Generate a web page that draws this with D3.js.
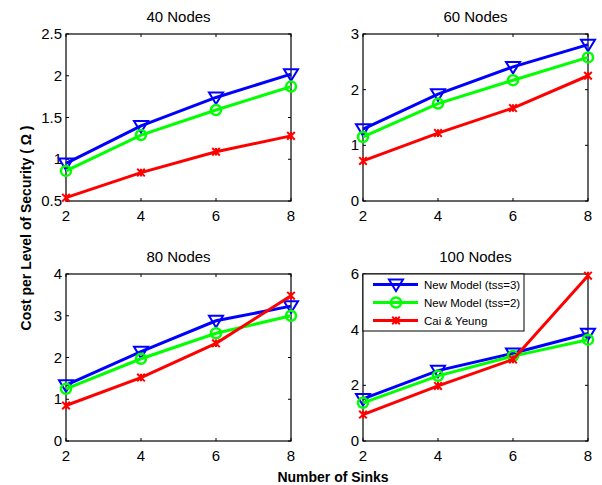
<!DOCTYPE html>
<html>
<head>
<meta charset="utf-8">
<script src="https://cdn.jsdelivr.net/npm/d3@7"></script>
<style>
  body { margin: 0; background: #fff; }
  svg { font-family: "Liberation Sans", Arial, sans-serif; }
</style>
</head>
<body>
<div id="chart"></div>
<script>
// Data
const sinks = [2, 4, 6, 8];
const seriesNames = ["New Model (tss=3)", "New Model (tss=2)", "Cai & Yeung"];

const nodes40Tss3 = [0.95, 1.40, 1.74, 2.02];
const nodes40Tss2 = [0.86, 1.29, 1.59, 1.87];
const nodes40Cai  = [0.54, 0.84, 1.09, 1.28];

const nodes60Tss3 = [1.29, 1.92, 2.41, 2.81];
const nodes60Tss2 = [1.15, 1.75, 2.17, 2.58];
const nodes60Cai  = [0.72, 1.22, 1.67, 2.25];

const nodes80Tss3 = [1.34, 2.14, 2.88, 3.23];
const nodes80Tss2 = [1.25, 1.97, 2.58, 3.00];
const nodes80Cai  = [0.85, 1.52, 2.34, 3.48];

const nodes100Tss3 = [1.51, 2.53, 3.15, 3.86];
const nodes100Tss2 = [1.37, 2.34, 3.05, 3.64];
const nodes100Cai  = [0.95, 1.98, 2.93, 5.94];

const ticks40 = [0.5, 1, 1.5, 2, 2.5];
const ticks60 = [0, 1, 2, 3];
const ticks80 = [0, 1, 2, 3, 4];
const ticks100 = [0, 2, 4, 6];

const width = 602;
const height = 485;
const colors = ["#0000ff", "#00ff00", "#ff0000"];

const panels = [
    { title: "40 Nodes", left: 66, top: 34, domain: [0.5, 2.5], ticks: ticks40, data: [nodes40Tss3, nodes40Tss2, nodes40Cai] },
    { title: "60 Nodes", left: 363, top: 34, domain: [0, 3], ticks: ticks60, data: [nodes60Tss3, nodes60Tss2, nodes60Cai] },
    { title: "80 Nodes", left: 66, top: 274, domain: [0, 4], ticks: ticks80, data: [nodes80Tss3, nodes80Tss2, nodes80Cai] },
    { title: "100 Nodes", left: 363, top: 274, domain: [0, 6], ticks: ticks100, data: [nodes100Tss3, nodes100Tss2, nodes100Cai], legend: true }
];
const pw = 225, ph = 167;

const svg = d3.select("#chart")
    .append("svg")
    .attr("width", width)
    .attr("height", height);

// marker drawers (matlab-ish: triangle down, circle, star)
function drawMarker(g, i, x, y) {
    if (i === 0) {
        const s = 7;
        g.append("path")
            .attr("d", `M${x - s},${y - s * 0.7}L${x + s},${y - s * 0.7}L${x},${y + s * 0.95}Z`)
            .attr("fill", "none").attr("stroke", colors[0]).attr("stroke-width", 2);
    } else if (i === 1) {
        g.append("circle")
            .attr("cx", x).attr("cy", y).attr("r", 5)
            .attr("fill", "none").attr("stroke", colors[1]).attr("stroke-width", 2.5);
    } else {
        const s = 3.8;
        g.append("path")
            .attr("d", `M${x - s},${y - s}L${x + s},${y + s}M${x - s},${y + s}L${x + s},${y - s}M${x},${y - s}L${x},${y + s}`)
            .attr("fill", "none").attr("stroke", colors[2]).attr("stroke-width", 2);
    }
}

panels.forEach(p => {
    const g = svg.append("g").attr("transform", `translate(${p.left},${p.top})`);

    const x = d3.scaleLinear().domain([2, 8]).range([0, pw]);
    const y = d3.scaleLinear().domain(p.domain).range([ph, 0]);

    g.append("rect")
        .attr("width", pw).attr("height", ph)
        .attr("fill", "#fff").attr("stroke", "#000").attr("stroke-width", 1.2);

    // inward ticks on all four sides
    const tl = 3;
    sinks.forEach(s => {
        g.append("line").attr("x1", x(s)).attr("x2", x(s)).attr("y1", ph).attr("y2", ph - tl).attr("stroke", "#000");
        g.append("line").attr("x1", x(s)).attr("x2", x(s)).attr("y1", 0).attr("y2", tl).attr("stroke", "#000");
    });
    p.ticks.forEach(t => {
        g.append("line").attr("x1", 0).attr("x2", tl).attr("y1", y(t)).attr("y2", y(t)).attr("stroke", "#000");
        g.append("line").attr("x1", pw).attr("x2", pw - tl).attr("y1", y(t)).attr("y2", y(t)).attr("stroke", "#000");
    });

    g.selectAll(".xt").data(sinks).enter().append("text")
        .attr("x", d => x(d)).attr("y", ph + 20)
        .attr("text-anchor", "middle").attr("font-size", 15)
        .text(d => d);

    g.selectAll(".yt").data(p.ticks).enter().append("text")
        .attr("x", -4).attr("y", d => y(d) + 5)
        .attr("text-anchor", "end").attr("font-size", 15)
        .text(d => d);

    g.append("text")
        .attr("x", pw / 2).attr("y", -12)
        .attr("text-anchor", "middle").attr("font-size", 15)
        .text(p.title);

    const line = d3.line().x((d, i) => x(sinks[i])).y(d => y(d));

    p.data.forEach((vals, i) => {
        const sg = g.append("g");
        sg.append("path")
            .attr("d", line(vals))
            .attr("fill", "none").attr("stroke", colors[i]).attr("stroke-width", 3);
        vals.forEach((v, j) => drawMarker(sg, i, x(sinks[j]), y(v)));
    });

    if (p.legend) {
        const lg = g.append("g");
        lg.append("rect")
            .attr("x", 0).attr("y", 0).attr("width", 161).attr("height", 57)
            .attr("fill", "#fff").attr("stroke", "#000").attr("stroke-width", 1);
        seriesNames.forEach((name, i) => {
            const ly = 10.5 + i * 18;
            lg.append("line")
                .attr("x1", 10).attr("x2", 55).attr("y1", ly).attr("y2", ly)
                .attr("stroke", colors[i]).attr("stroke-width", 3);
            drawMarker(lg, i, 33, ly);
            lg.append("text")
                .attr("x", 61).attr("y", ly + 4)
                .attr("font-size", 11.5)
                .text(name);
        });
    }
});

svg.append("text")
    .attr("transform", `translate(31,228) rotate(-90)`)
    .attr("text-anchor", "middle").attr("font-size", 14).attr("font-weight", "bold")
    .text("Cost per Level of Security ( \u03a9 )");

svg.append("text")
    .attr("x", 333).attr("y", 482)
    .attr("text-anchor", "middle").attr("font-size", 14).attr("font-weight", "bold")
    .text("Number of Sinks");
</script>
</body>
</html>
